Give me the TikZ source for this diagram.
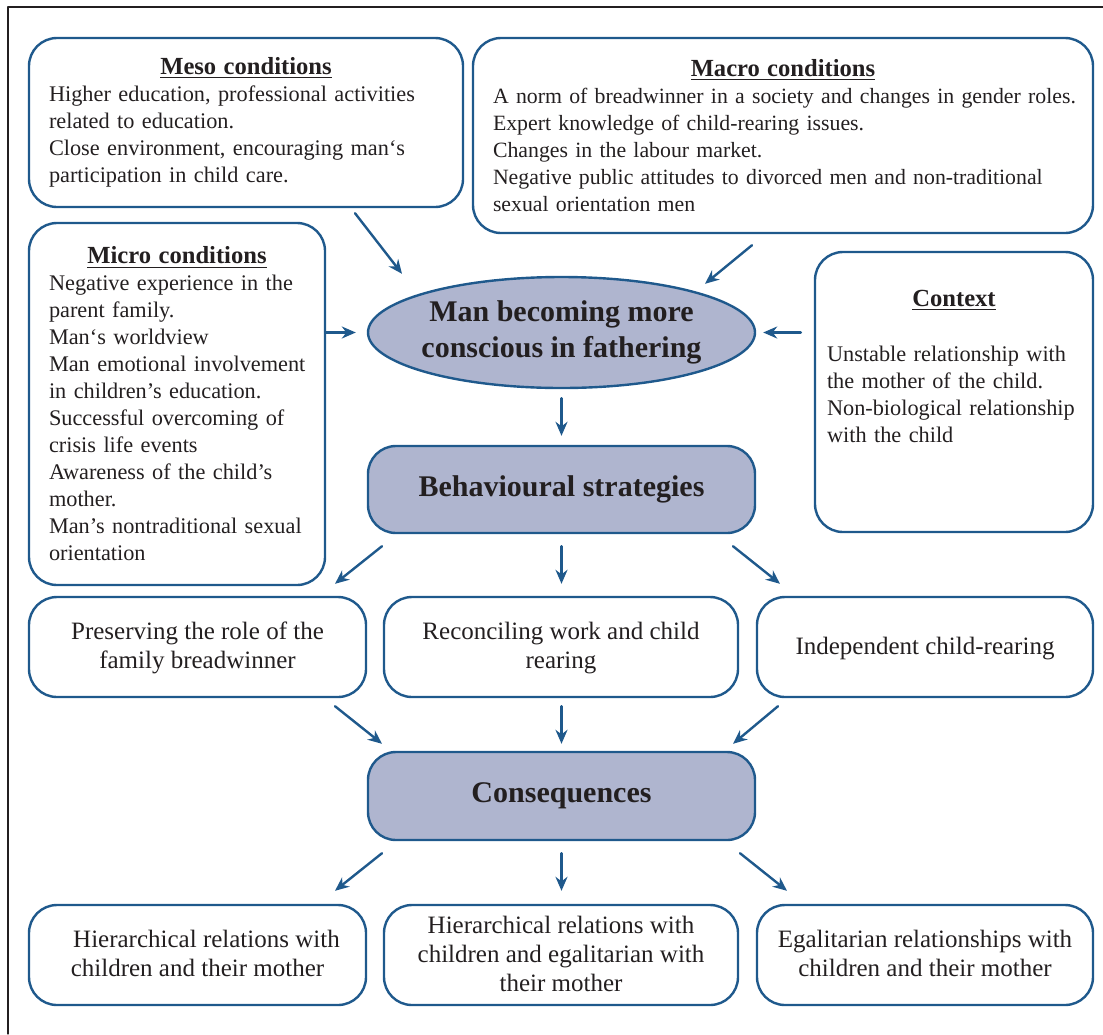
\documentclass[tikz,border=0pt]{standalone}
\usepackage{fontspec}
\setmainfont{Liberation Serif}
\usepackage{tikz}
\usetikzlibrary{shapes.geometric}
\usetikzlibrary{arrows.meta}
\usetikzlibrary{calc}
\definecolor{edgeblue}{RGB}{31,89,140}
\definecolor{boxfill}{RGB}{175,181,207}
\definecolor{inkgrey}{RGB}{35,31,32}
\newcommand{\boxhead}[1]{\makebox[\linewidth]{\fontsize{12.3}{13.5}\selectfont\bfseries\underline{#1}}}
\begin{document}
\begin{tikzpicture}[line cap=round,line join=round,>={Stealth[length=7pt,width=6pt]},x=0.5pt,y=-0.5pt,
condbox/.style={draw=edgeblue,line width=1.2pt,rounded corners=14pt,align=left,text=inkgrey,inner sep=0pt,font=\fontsize{11.15}{13.5}\selectfont},
midbox/.style={draw=edgeblue,fill=boxfill,line width=1.2pt,rounded corners=14pt,align=center,text=inkgrey,inner sep=0pt,font=\fontsize{15}{18}\selectfont\bfseries},
resbox/.style={draw=edgeblue,line width=1.2pt,rounded corners=14pt,align=center,text=inkgrey,inner sep=0pt,minimum height=50pt,text depth=1.5pt,font=\fontsize{12.5}{14.5}\selectfont},
flow/.style={->,draw=edgeblue,line width=1.2pt}]
\useasboundingbox (0,0) rectangle (1103,1034);
\draw[color=inkgrey,line width=0.6pt] (8,1034) -- (8,7) -- (1103,7);
\node[condbox,minimum width=217pt,minimum height=84.5pt,text width=197pt] (meso) at (246,122.5) {\boxhead{Meso conditions}\\
Higher education, professional activities\\ related to education.\\ Close environment, encouraging man‘s\\ participation in child care.};
\node[condbox,minimum width=310pt,minimum height=97.5pt,text width=290pt,font=\fontsize{10.9}{13.5}\selectfont] (macro) at (783,135.5) {\boxhead{Macro conditions}\\
\mbox{A norm of breadwinner in a society and changes in gender roles.}\\ Expert knowledge of child-rearing issues.\\ Changes in the labour market.\\ \mbox{Negative public attitudes to divorced men and non-traditional}\\ sexual orientation men};
\node[condbox,minimum width=148pt,minimum height=181pt,text width=128pt] (micro) at (177,404) {\boxhead{Micro conditions}\\
Negative experience in the\\ parent family.\\ Man‘s worldview\\ \mbox{Man emotional involvement}\\ in children’s education.\\ Successful overcoming of\\ crisis life events\\ Awareness of the child’s\\ mother.\\ \mbox{Man’s nontraditional sexual}\\ orientation};
\node[condbox,minimum width=139pt,minimum height=140pt,text width=127pt] (ctx) at (954,392) {\boxhead{Context}\\[14pt]
Unstable relationship with\\ the mother of the child.\\ \mbox{Non-biological relationship}\\ with the child\\[12.5pt]\mbox{}};
\node[midbox,ellipse,rounded corners=0pt,minimum width=193.5pt,minimum height=55.5pt,inner xsep=-4pt] (man) at (561.5,332.5) {Man becoming more\\ conscious in fathering};
\node[midbox,minimum width=193.5pt,minimum height=43.5pt] (behav) at (561.5,489.5) {Behavioural strategies};
\node[resbox,minimum width=168.5pt] (s1) at (197.5,647) {Preserving the role of the\\ family breadwinner};
\node[resbox,minimum width=177pt] (s2) at (561,647) {Reconciling work and child\\ rearing};
\node[resbox,minimum width=168pt] (s3) at (925,647) {Independent child-rearing};
\node[midbox,minimum width=193.5pt,minimum height=44pt] (cons) at (561.5,796) {Consequences};
\node[resbox,minimum width=168.5pt] (c1) at (197.5,955) {\hspace*{9pt}Hierarchical relations with\\ children and their mother};
\node[resbox,minimum width=177pt] (c2) at (561,955) {Hierarchical relations with\\ children and egalitarian with\\ their mother};
\node[resbox,minimum width=168pt] (c3) at (925,955) {Egalitarian relationships with\\ children and their mother};
\draw[flow] ($(meso.south)+(109,5)$) -- ($(man.north)+(-159.5,-2)$);
\draw[flow] ($(macro.south)+(-31,11)$) -- ($(man.north)+(143.5,8)$);
\draw[flow,shorten >=5.5pt] (micro.east |- man.west) -- (man.west);
\draw[flow,shorten <=6.5pt,shorten >=3.5pt] (ctx.west |- man.east) -- (man.east);
\draw[flow,shorten <=4.5pt,shorten >=4.5pt] (man.south) -- (behav.north);
\draw[flow] ($(behav.south)+(-179.5,12)$) -- ($(s1.north)+(137.5,-12)$);
\draw[flow,shorten <=6pt,shorten >=6pt] (behav.south) -- (behav.south |- s2.north);
\draw[flow] ($(behav.south)+(171.5,12)$) -- ($(s3.north)+(-145,-12)$);
\draw[flow] ($(s1.south)+(137.5,8)$) -- ($(cons.north)+(-179.5,-7)$);
\draw[flow,shorten <=4pt,shorten >=3.5pt] (cons.north |- s2.south) -- (cons.north);
\draw[flow] ($(s3.south)+(-147,8)$) -- ($(cons.north)+(171.5,-7)$);
\draw[flow] ($(cons.south)+(-179.5,12)$) -- ($(c1.north)+(137.5,-13)$);
\draw[flow,shorten <=6pt,shorten >=6.5pt] (cons.south) -- (cons.south |- c2.north);
\draw[flow] ($(cons.south)+(178.5,12)$) -- ($(c3.north)+(-138,-13)$);
\end{tikzpicture}
\end{document}
